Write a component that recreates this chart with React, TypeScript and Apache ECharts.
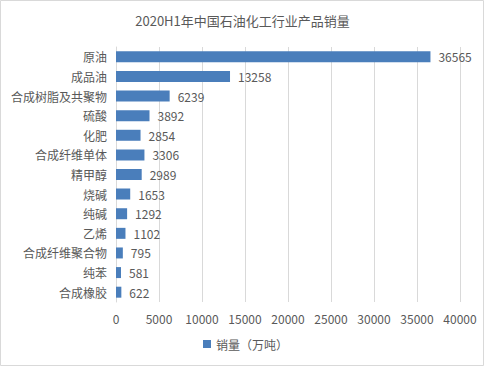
import React, { useEffect, useRef } from "react";
import * as echarts from "echarts";

const categories = ["原油", "成品油", "合成树脂及共聚物", "硫酸", "化肥", "合成纤维单体", "精甲醇", "烧碱", "纯碱", "乙烯", "合成纤维聚合物", "纯苯", "合成橡胶"];
const sales = [36565, 13258, 6239, 3892, 2854, 3306, 2989, 1653, 1292, 1102, 795, 581, 622];
const seriesName = "销量（万吨）";
const titleText = "2020H1年中国石油化工行业产品销量";

export default function App() {
  const ref = useRef<HTMLDivElement>(null);
  useEffect(() => {
    document.body.style.margin = "0";
    const chart = echarts.init(ref.current!, undefined, { renderer: "svg" });
    const font = "'Microsoft YaHei', 'Noto Sans CJK SC', sans-serif";
    chart.setOption({
      animation: false,
      backgroundColor: "#fff",
      title: {
        text: titleText,
        left: "center",
        top: 9,
        textStyle: { fontSize: 13, fontWeight: "normal", color: "#595959", fontFamily: font },
      },
      graphic: [
        {
          type: "rect",
          shape: { x: 0.5, y: 0.5, width: 483, height: 365 },
          style: { fill: "none", stroke: "#d9d9d9", lineWidth: 1 },
          silent: true,
        },
      ],
      legend: {
        bottom: 14,
        left: 198,
        itemWidth: 8,
        itemHeight: 8,
        itemGap: 4,
        icon: "rect",
        textStyle: { fontSize: 12, color: "#595959", fontFamily: font },
        data: [seriesName],
      },
      grid: { left: 116, right: 25, top: 47, bottom: 67, containLabel: false },
      xAxis: {
        type: "value",
        min: 0,
        max: 40000,
        interval: 5000,
        axisLine: { show: false },
        axisTick: { show: false },
        splitLine: { lineStyle: { color: "#d9d9d9" } },
        axisLabel: {
          color: "#595959",
          fontSize: 12,
          fontFamily: font,
          margin: 10,
          formatter: (v: number) => String(v),
        },
      },
      yAxis: {
        type: "category",
        inverse: true,
        data: categories,
        axisLine: { show: true, lineStyle: { color: "#d9d9d9" } },
        axisTick: { show: false },
        axisLabel: { color: "#595959", fontSize: 12, fontFamily: font, margin: 9 },
      },
      series: [
        {
          name: seriesName,
          type: "bar",
          data: sales,
          barWidth: "56%",
          itemStyle: { color: "#4a7ebb" },
          label: {
            show: true,
            position: "right",
            distance: 8,
            color: "#595959",
            fontSize: 12,
            fontFamily: font,
          },
        },
      ],
    });
    return () => chart.dispose();
  }, []);
  return <div ref={ref} style={{ width: 485, height: 369 }} />;
}
